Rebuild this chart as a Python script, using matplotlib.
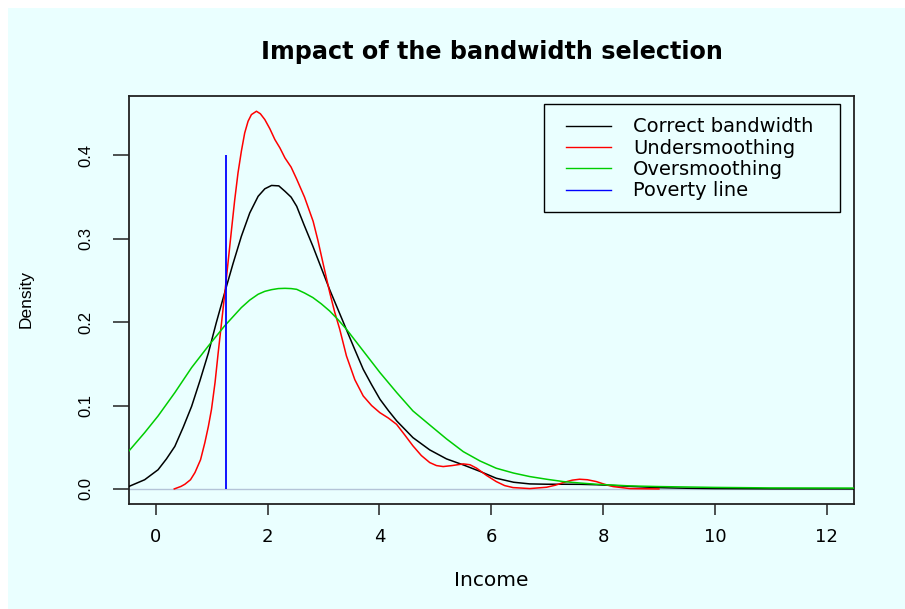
import matplotlib
matplotlib.use("Agg")
import matplotlib.pyplot as plt
from matplotlib.patches import Rectangle
from matplotlib.lines import Line2D

# ---- data ----
black_x = [-0.48, -0.2, 0.04, 0.19, 0.34, 0.49, 0.64, 0.79, 0.94, 1.08, 1.23, 1.38, 1.53, 1.68,
           1.83, 1.95, 2.07, 2.2, 2.31, 2.42, 2.52, 2.65, 2.81, 2.96, 3.11, 3.26, 3.41, 3.56,
           3.71, 3.86, 4.01, 4.16, 4.31, 4.60, 4.90, 5.2, 5.50, 5.8, 6.09, 6.4, 6.69,
           7.0, 7.29, 7.6, 7.88, 8.2, 8.5, 9.0, 9.5, 10.0, 11.0, 12.5]
black_y = [0.003, 0.011, 0.023, 0.036, 0.051, 0.074, 0.099, 0.130, 0.163, 0.199, 0.235, 0.270, 0.303, 0.331,
           0.351, 0.360, 0.364, 0.3635, 0.357, 0.350, 0.339, 0.317, 0.291, 0.265, 0.239, 0.215, 0.191, 0.167,
           0.1435, 0.125, 0.1075, 0.094, 0.0815, 0.0615, 0.0468, 0.036, 0.0288, 0.021, 0.0128, 0.008, 0.006,
           0.0056, 0.0056, 0.0055, 0.005, 0.004, 0.003, 0.0015, 0.0008, 0.0004, 0.0001, 0.0]

green_x = [-0.48, -0.2, 0.04, 0.34, 0.64, 0.94, 1.23, 1.53, 1.68, 1.83, 1.95, 2.07, 2.19, 2.31,
           2.42, 2.52, 2.66, 2.81, 2.96, 3.11, 3.26, 3.41, 3.71, 4.01, 4.31, 4.60, 4.90, 5.2,
           5.50, 5.8, 6.09, 6.4, 6.69, 7.0, 7.29, 7.6, 7.88, 8.48, 9.0, 10.0, 11.0, 12.5]
green_y = [0.0456, 0.0675, 0.0875, 0.1155, 0.1455, 0.1715, 0.1955, 0.2175, 0.2265, 0.2335, 0.237, 0.239, 0.2403, 0.2406,
           0.2403, 0.2394, 0.235, 0.2295, 0.222, 0.2134, 0.203, 0.1915, 0.1655, 0.1395, 0.1155, 0.0935, 0.0767, 0.060,
           0.0447, 0.0335, 0.0248, 0.019, 0.0148, 0.0115, 0.0088, 0.007, 0.0056, 0.0036, 0.0028, 0.0018, 0.0012, 0.001]

red_x = [0.33, 0.45, 0.52, 0.62, 0.70, 0.80, 0.877, 0.94, 0.996, 1.06, 1.115, 1.175, 1.234, 1.294,
         1.354, 1.41, 1.47, 1.53, 1.59, 1.65, 1.71, 1.80, 1.87, 1.95, 2.04, 2.13, 2.22, 2.31,
         2.42, 2.517, 2.66, 2.814, 2.90, 2.99, 3.113, 3.20, 3.29, 3.41, 3.56, 3.71, 3.86, 4.007,
         4.16, 4.306, 4.45, 4.60, 4.75, 4.90, 5.02, 5.14, 5.30, 5.50, 5.62, 5.74, 5.92, 6.09,
         6.24, 6.39, 6.69, 6.99, 7.15, 7.29, 7.45, 7.58, 7.72, 7.88, 8.03, 8.18, 8.48, 9.0]
red_y = [0.0, 0.003, 0.0056, 0.011, 0.0196, 0.035, 0.0555, 0.075, 0.0955, 0.128, 0.163, 0.199, 0.235, 0.273,
         0.311, 0.346, 0.379, 0.405, 0.427, 0.441, 0.449, 0.453, 0.450, 0.443, 0.432, 0.419, 0.409, 0.397,
         0.386, 0.372, 0.350, 0.321, 0.298, 0.271, 0.235, 0.212, 0.1915, 0.1595, 0.131, 0.1115, 0.100, 0.0915,
         0.085, 0.0775, 0.065, 0.0516, 0.040, 0.0316, 0.028, 0.0268, 0.028, 0.030, 0.029, 0.0248, 0.016, 0.0088,
         0.004, 0.0016, 0.0004, 0.002, 0.0045, 0.0076, 0.0105, 0.0116, 0.011, 0.0088, 0.0055, 0.0028, 0.0004, 0.0]

poverty_line = 1.25
poverty_height = 0.4

x_ticks = [0, 2, 4, 6, 8, 10, 12]
y_ticks = [0.0, 0.1, 0.2, 0.3, 0.4]
y_tick_labels = ["0.0", "0.1", "0.2", "0.3", "0.4"]

series_labels = ["Correct bandwidth", "Undersmoothing", "Oversmoothing", "Poverty line"]
series_colors = ["black", "#FF0000", "#00CD00", "#0000FF"]

title = "Impact of the bandwidth selection"
xlabel = "Income"
ylabel = "Density"

# ---- figure ----
W, H = 905, 609
BG = "#EAFFFF"
fig = plt.figure(figsize=(W / 100, H / 100), dpi=100, facecolor="white")
fig.patches.append(Rectangle((8 / W, 0), 1 - 8 / W, 1 - 8 / H, transform=fig.transFigure,
                             facecolor=BG, edgecolor="none", zorder=-10))

ax = fig.add_axes([129 / W, 1 - 504 / H, (854 - 129) / W, (504 - 96) / H])
ax.set_facecolor(BG)
ax.set_xlim(-0.48, 12.49)
ax.set_ylim(-0.0181, 0.4713)

ax.axhline(0, color="#B4C4D8", lw=1.0, zorder=1)
ax.plot(black_x, black_y, color=series_colors[0], lw=1.1, zorder=3)
ax.plot(red_x, red_y, color=series_colors[1], lw=1.1, zorder=3)
ax.plot(green_x, green_y, color=series_colors[2], lw=1.1, zorder=3)
ax.vlines(poverty_line, 0, poverty_height, color=series_colors[3], lw=1.3, zorder=4)

for s in ax.spines.values():
    s.set_color("#222222")
    s.set_linewidth(1.3)

ax.set_xticks(x_ticks)
ax.set_xticklabels([str(v) for v in x_ticks], fontsize=13, family="DejaVu Sans", va="center")
ax.tick_params(axis="x", length=7.9, width=1.1, pad=16.2, colors="#222222", labelcolor="black")
ax.set_yticks(y_ticks)
ax.set_yticklabels(y_tick_labels, fontsize=12, family="Liberation Sans", rotation=90,
                   va="center", ha="center")
ax.tick_params(axis="y", length=11.2, width=1.1, pad=20.0, colors="#222222", labelcolor="black")

fig.text(491.5 / W, 1 - 52 / H, title, ha="center", va="center", fontsize=17.2,
         fontweight="bold", family="DejaVu Sans")
fig.text(491.7 / W, 1 - 580 / H, xlabel, ha="center", va="center", fontsize=14.5,
         family="DejaVu Sans")
fig.text(26 / W, 1 - 299 / H, ylabel, ha="center", va="center", fontsize=12.5,
         family="Liberation Sans", rotation=90)

# legend
handles = [Line2D([], [], color=c, lw=1.0) for c in series_colors]
leg = ax.legend(handles, series_labels, loc="upper left",
                bbox_to_anchor=(566 / W, 1 - 117.5 / H), bbox_transform=fig.transFigure,
                frameon=False, borderpad=0, borderaxespad=0, labelspacing=0.12,
                handlelength=2.31, handletextpad=1.13,
                prop={"family": "DejaVu Sans", "size": 14})
fig.patches.append(Rectangle((544 / W, 1 - 212 / H), (840 - 544) / W, (212 - 104) / H,
                             transform=fig.transFigure, facecolor="none",
                             edgecolor="black", lw=1.0, zorder=5))

fig.savefig("out.png", dpi=100, facecolor="white")
